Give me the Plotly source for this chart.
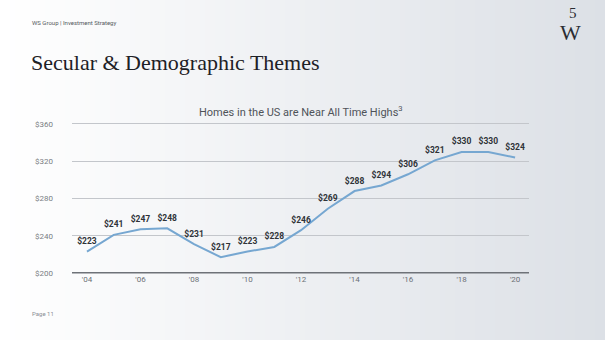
import plotly.graph_objects as go

# Median home prices ($ thousands), 2004-2020
years = list(range(2004, 2021))
prices = [223, 241, 247, 248, 231, 217, 223, 228, 246, 269, 288, 294, 306, 321, 330, 330, 324]
tick_years = [2004, 2006, 2008, 2010, 2012, 2014, 2016, 2018, 2020]
tick_text = ["'04", "'06", "'08", "'10", "'12", "'14", "'16", "'18", "'20"]
y_ticks = [200, 240, 280, 320, 360]
y_tick_text = ["$200", "$240", "$280", "$320", "$360"]

W, H = 605, 340
sans = "Roboto, Inter, sans-serif"
serif = "Liberation Serif, DejaVu Serif, serif"

fig = go.Figure()
fig.add_trace(go.Scatter(
    x=years, y=prices,
    mode="lines+markers+text",
    line=dict(color="#76a7d1", width=2),
    marker=dict(size=7, color="rgba(0,0,0,0)"),
    text=[f"<b>${v}</b>" for v in prices],
    textposition="top center",
    textfont=dict(family=sans, size=8.5, color="#2f3338"),
    hoverinfo="skip",
    cliponaxis=False,
))

# Horizontal background gradient drawn as thin strips
shapes = []
n = 121
c0 = (255, 255, 255)
c1 = (220, 224, 230)
for i in range(n):
    t = i / (n - 1)
    r, g, b = (round(a + (bb - a) * t) for a, bb in zip(c0, c1))
    shapes.append(dict(type="rect", xref="paper", yref="paper",
                       x0=i / n, x1=(i + 1) / n + 0.002, y0=0, y1=1,
                       fillcolor=f"rgb({r},{g},{b})", line=dict(width=0),
                       layer="below"))

annotations = [
    dict(text="WS Group | Investment Strategy", x=30 / W, y=1 - 23 / H,
         xref="paper", yref="paper", xanchor="left", yanchor="middle",
         showarrow=False, font=dict(family=sans, size=6, color="#555a60")),
    dict(text="Secular & Demographic Themes", x=29 / W, y=1 - 62 / H,
         xref="paper", yref="paper", xanchor="left", yanchor="middle",
         showarrow=False, font=dict(family=serif, size=22, color="#1e2126")),
    dict(text="Homes in the US are Near All Time Highs<sup>3</sup>", x=301 / W, y=1 - 112 / H,
         xref="paper", yref="paper", xanchor="center", yanchor="middle",
         showarrow=False, font=dict(family=sans, size=11, color="#4f5359")),
    dict(text="Page 11", x=30 / W, y=1 - 313 / H,
         xref="paper", yref="paper", xanchor="left", yanchor="middle",
         showarrow=False, font=dict(family=sans, size=6, color="#8a8e94")),
    dict(text="W", x=570 / W, y=1 - 32 / H,
         xref="paper", yref="paper", xanchor="center", yanchor="middle",
         showarrow=False, font=dict(family=serif, size=22, color="#2a2d33")),
    dict(text="5", x=573 / W, y=1 - 13 / H,
         xref="paper", yref="paper", xanchor="center", yanchor="middle",
         showarrow=False, font=dict(family=serif, size=15, color="#2a2d33")),
]

# 0.93125 px per dollar; $200 sits at y=273, $360 at y=124
ppu = 149 / 160
y_lo, y_hi = 199.5, 362.0
fig.update_layout(
    width=W, height=H,
    margin=dict(l=0, r=0, t=0, b=0),
    paper_bgcolor="#ffffff",
    plot_bgcolor="rgba(0,0,0,0)",
    showlegend=False,
    shapes=shapes,
    annotations=annotations,
    xaxis=dict(
        domain=[72 / W, 529 / W],
        range=[2003.44, 2020.52],
        tickmode="array", tickvals=tick_years, ticktext=tick_text,
        tickfont=dict(family=sans, size=8, color="#6c7076"),
        showgrid=False, zeroline=False,
        showline=False, ticks="",
        automargin=False, fixedrange=True,
    ),
    yaxis=dict(
        domain=[1 - (273 + (200 - y_lo) * ppu) / H, 1 - (124 - (y_hi - 360) * ppu) / H],
        range=[y_lo, y_hi],
        tickmode="array", tickvals=y_ticks, ticktext=y_tick_text,
        tickfont=dict(family=sans, size=8, color="#7a7e84"),
        showgrid=True, gridcolor="#c3c6cb", gridwidth=1,
        zeroline=False, showline=False, ticks="",
        ticklabelstandoff=18,
        automargin=False, fixedrange=True,
    ),
)

# Darker baseline along the bottom of the plot
fig.add_shape(type="line", xref="paper", yref="y",
              x0=72 / W, x1=529 / W, y0=200, y1=200,
              line=dict(color="#6e7278", width=2))

fig.write_html("out.html")
